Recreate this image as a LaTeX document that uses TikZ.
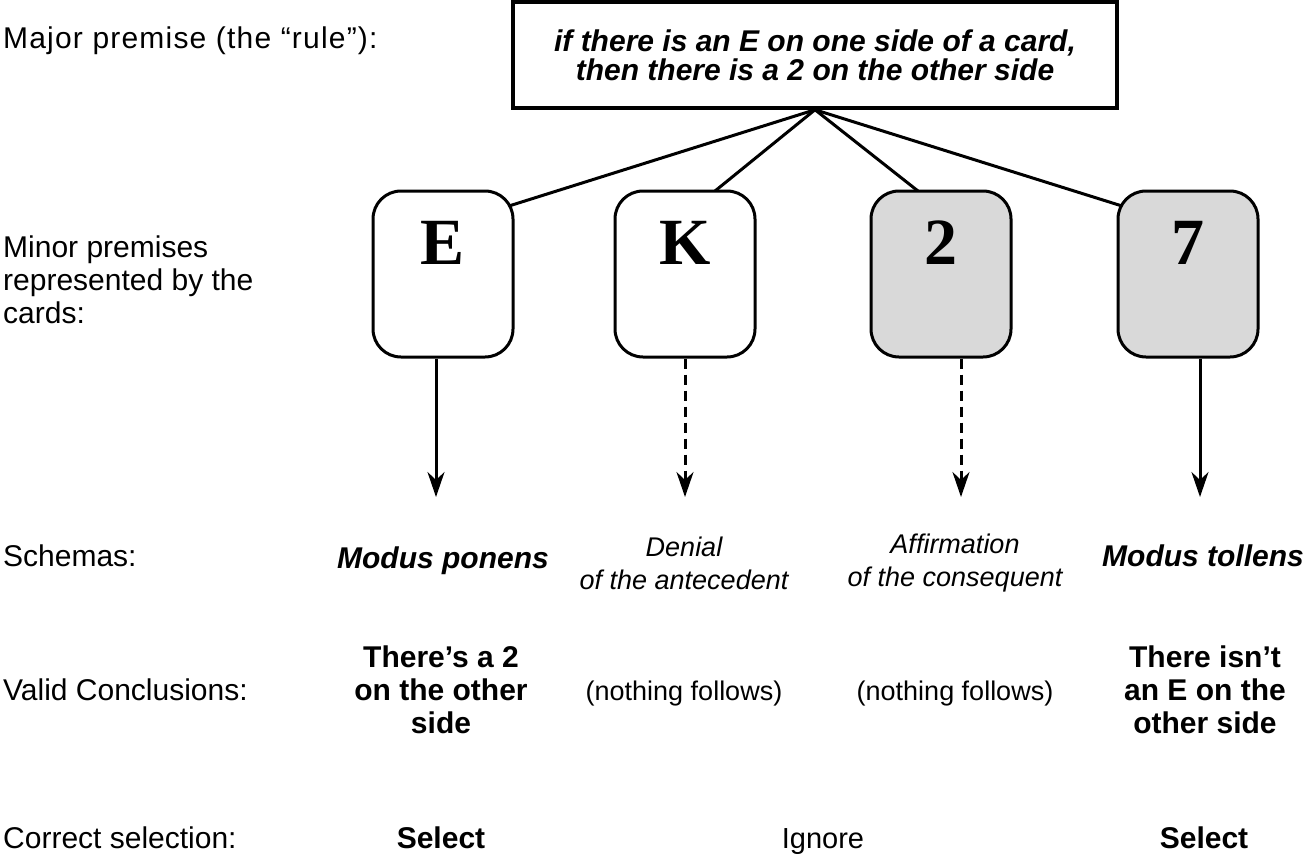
\documentclass[tikz,border=0pt]{standalone}
\usepackage{fontspec}
\setmainfont{Liberation Sans}
\newfontfamily\cardfont{Liberation Serif}
\usetikzlibrary{arrows.meta,calc}

\begin{document}
\begin{tikzpicture}[x=1pt, y=-1pt,
  every node/.style={inner sep=0pt, font=\fontsize{30}{33}\selectfont},
  lbl/.style={anchor=base west},
  card/.style={draw, line width=3pt, rounded corners=28pt, minimum width=140pt, minimum height=166pt, fill=white},
  shaded/.style={card, fill=black!15},
  face/.style={font=\fontsize{66}{66}\selectfont\cardfont\bfseries},
  col/.style={align=center},
  strong/.style={font=\fontsize{30}{33}\selectfont\bfseries},
  soft/.style={font=\fontsize{27}{33}\selectfont},
  link/.style={line width=3pt},
  arr/.style={-{Stealth[length=25pt, width=17pt, inset=8pt]}, line width=3pt},
  weak/.style={arr, dash pattern=on 10pt off 6pt}
]
  \useasboundingbox (0,0) rectangle (1304,855);

  \node[lbl, font=\fontsize{30}{33}\selectfont\addfontfeature{LetterSpace=4}] (major) at (3,48) {Major premise (the “rule”):};
  \node[anchor=west, align=left] (minor) at (3,280) {Minor premises\\represented by the\\cards:};
  \node[lbl] (schemas) at (3,566) {Schemas:};
  \node[lbl] (valid) at (3,700) {Valid Conclusions:};
  \node[lbl] (correct) at (3,848) {Correct selection:};

  \node[draw, line width=3.5pt, minimum width=604pt, minimum height=106pt, align=center,
        font=\fontsize{30}{29}\selectfont\bfseries\itshape] (rule) at (815,55)
        {if there is an E on one side of a card,\\then there is a 2 on the other side};

  \coordinate (cE) at (443,274);
  \coordinate (cK) at (685,274);
  \coordinate (c2) at (941,274);
  \coordinate (c7) at (1188,274);

  \draw[link] (rule.south) -- ($(cE)+(50,-63)$);
  \draw[link] (rule.south) -- ($(cK)+(30,-83)$);
  \draw[link] (rule.south) -- ($(c2)+(-23,-83)$);
  \draw[link] (rule.south) -- ($(c7)+(-50,-63)$);

  \node[card] (E) at (cE) {};
  \node[card] (K) at (cK) {};
  \node[shaded] (two) at (c2) {};
  \node[shaded] (seven) at (c7) {};
  \node[face] (Eface) at ($(E.north)+(0,53)$) {E};
  \node[face] (Kface) at ($(K.north)+(0,53)$) {K};
  \node[face] (twoface) at ($(two.north)+(0,53)$) {2};
  \node[face] (sevenface) at ($(seven.north)+(0,53)$) {7};

  \coordinate (tE) at (436,497);
  \coordinate (tK) at (685,497);
  \coordinate (t2) at (961,497);
  \coordinate (t7) at (1200,497);
  \draw[arr] (E.south -| tE) -- (tE);
  \draw[weak] (K.south -| tK) -- (tK);
  \draw[weak] (two.south -| t2) -- (t2);
  \draw[arr] (seven.south -| t7) -- (t7);

  \node[anchor=base, font=\fontsize{30}{33}\selectfont\bfseries\itshape] (ponens) at (443,568) {Modus ponens};
  \node[col, font=\fontsize{27}{33}\selectfont\itshape] (denial) at (684,563) {Denial\\of the antecedent};
  \node[col, font=\fontsize{27}{33}\selectfont\itshape] (affirm) at (955,563) {Affirmation\\of the consequent};
  \node[anchor=base, font=\fontsize{30}{33}\selectfont\bfseries\itshape] (tollens) at (1203,566) {Modus tollens};

  \node[col, strong] (concE) at (441,690) {There’s a 2\\on the other\\side};
  \node[anchor=base, soft] (concK) at (684,700) {(nothing follows)};
  \node[anchor=base, soft] (conc2) at (955,700) {(nothing follows)};
  \node[col, strong] (conc7) at (1205,690) {There isn’t\\an E on the\\other side};

  \node[anchor=base, strong] (selE) at (441,848) {Select};
  \node[anchor=base, font=\fontsize{29}{33}\selectfont] (ignore) at (823,848) {Ignore};
  \node[anchor=base, strong] (sel7) at (1204,848) {Select};
\end{tikzpicture}
\end{document}
